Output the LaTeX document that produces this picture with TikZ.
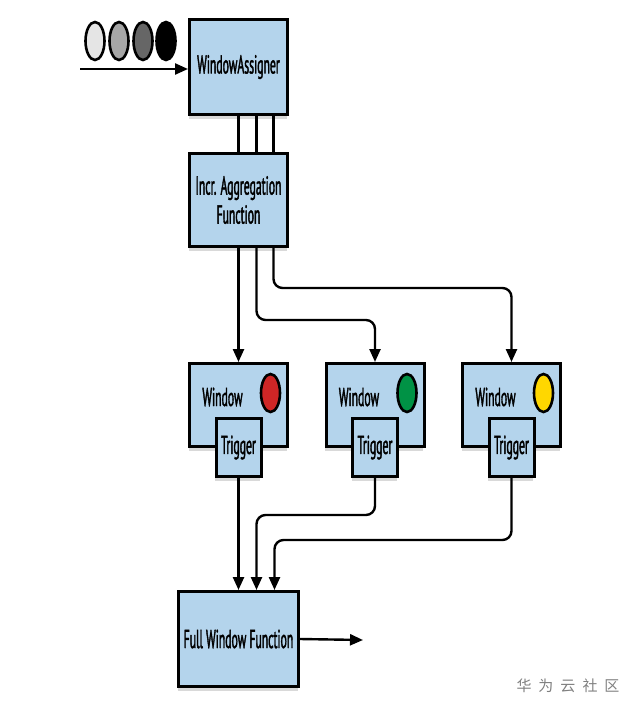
\documentclass[tikz,border=0pt]{standalone}
\usepackage{fontspec}
\setmainfont{PT Sans}[FakeStretch=0.45,FakeBold=1.4]
\newfontfamily\cjkfont{Noto Sans CJK SC}
\usetikzlibrary{shapes,shapes.geometric,arrows.meta,positioning,shadows}
\definecolor{boxblue}{RGB}{180,212,236}
\definecolor{dotred}{RGB}{206,38,38}
\definecolor{dotgreen}{RGB}{0,146,69}
\definecolor{dotyellow}{RGB}{255,215,0}
\tikzstyle{block} = [rectangle, draw, line width=3pt, fill=boxblue,
    drop shadow={shadow xshift=-1pt,shadow yshift=-4pt,opacity=0.3},
    text centered, align=center, font=\fontsize{26}{29}\selectfont, inner sep=2pt]
\tikzstyle{window} = [block, minimum width=98pt, minimum height=83pt]
\tikzstyle{trigbox} = [block, minimum width=45pt, minimum height=58pt]
\tikzstyle{dot} = [ellipse, draw, line width=2.6pt, minimum width=19pt,
    minimum height=38pt, inner sep=0pt]
\tikzstyle{lbl} = [font=\fontsize{26}{29}\selectfont, inner sep=0pt]
\tikzstyle{line} = [draw, line width=2.4pt, -{Triangle[length=13pt,width=11pt]}]
\tikzstyle{wire} = [draw, line width=2.4pt]

\begin{document}
\begin{tikzpicture}[x=1pt,y=-1pt]
\useasboundingbox (0,0) rectangle (635,710);

\node [block, minimum width=98pt, minimum height=95pt] (assigner) at (238.5,67) {WindowAssigner};
\node [block, minimum width=98pt, minimum height=93pt, below of=assigner, node distance=133pt] (agg) {Incr. Aggregation\\Function};

\node [window, below of=agg, node distance=205pt] (w1) {};
\node [window, right of=w1, node distance=136.5pt] (w2) {};
\node [window, right of=w2, node distance=136.5pt] (w3) {};

% window labels and colour dots
\foreach \w/\c in {w1/dotred,w2/dotgreen,w3/dotyellow}{
  \node [lbl] (\w-txt) at ([xshift=-16pt,yshift=8pt]\w.center) {Window};
  \node [dot, fill=\c] (\w-dot) at ([xshift=32pt,yshift=12pt]\w.center) {};
}

\node [trigbox, below of=w1, node distance=42.5pt] (t1) {Trigger};
\node [trigbox, below of=w2, node distance=42.5pt] (t2) {Trigger};
\node [trigbox, below of=w3, node distance=42.5pt] (t3) {Trigger};

\node [block, minimum width=120pt, minimum height=95pt, below of=t1, node distance=191.5pt] (fwf) {Full Window Function};

% incoming elements
\foreach \c/\x [count=\i] in {black!10/95,black!35/119,black!60/143,black/166}{
  \node [dot, fill=\c] (in\i) at (\x,41) {};
}
\coordinate (src) at (80,69);
\draw[line] (src) -- (src -| assigner.west);

\foreach \s in {0,18,35}{
  \draw[wire] ([xshift=\s pt]assigner.south) -- ([xshift=\s pt]agg.north);
}

\draw[line] (agg.south) -- (w1.north);
\draw[line,rounded corners=9pt] ([xshift=18pt]agg.south) -- ++(0,72) -| (w2.north);
\draw[line,rounded corners=9pt] ([xshift=35pt]agg.south) -- ++(0,40) -| (w3.north);

\draw[line] (t1.south) -- (t1.south |- fwf.north);
\draw[line,rounded corners=9pt] (t2.south) -- ++(0,37) -| ([xshift=18pt]fwf.north);
\draw[line,rounded corners=9pt] (t3.south) -- ++(0,62) -| ([xshift=36pt]fwf.north);

\coordinate (sink) at (363,640);
\draw[line] (fwf.east) -- (sink);

\node [text=black!50, font=\cjkfont\fontsize{15}{17}\selectfont] (mark) at (568,686) {华\hspace{7pt}为\hspace{7pt}云\hspace{7pt}社\hspace{7pt}区};

\end{tikzpicture}
\end{document}
